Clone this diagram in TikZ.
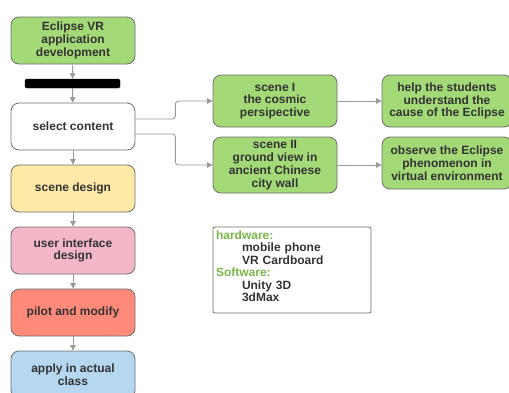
\documentclass[tikz,border=0pt]{standalone}
\usepackage{fontspec}
\setmainfont{Liberation Sans}
\usetikzlibrary{arrows.meta, positioning}
\definecolor{boxgreen}{HTML}{A3D977}
\definecolor{boxyellow}{HTML}{FFE9A6}
\definecolor{boxpink}{HTML}{F4B7C8}
\definecolor{boxred}{HTML}{FF8A7A}
\definecolor{boxblue}{HTML}{B5D7F0}
\definecolor{edgegray}{HTML}{6E6E6E}
\definecolor{linkgray}{HTML}{9A9A9A}
\definecolor{txtgray}{HTML}{333333}
\definecolor{hwgreen}{HTML}{7AB648}
\tikzset{
  stepbox/.style={draw=edgegray, line width=0.8pt, rounded corners=8pt, align=center,
    minimum width=124pt, minimum height=47pt, inner sep=1pt, text=txtgray,
    font=\fontsize{12}{12.8}\selectfont\bfseries},
  link/.style={draw=linkgray, line width=0.9pt, rounded corners=3pt,
    -{Triangle[length=5.5pt,width=5.5pt]}}
}
\begin{document}
\begin{tikzpicture}[x=1pt,y=-1pt]
    \useasboundingbox (0,0) rectangle (509,392);
    % left column
    \node[stepbox, fill=boxgreen] (eclipse) at (73,40.5) {Eclipse VR\\application\\development};
    \node[draw=black, fill=black, rounded corners=1.5pt, minimum width=95pt, minimum height=9pt, inner sep=0pt] (bar) at (72.5,83.5) {};
    \node[stepbox, fill=white] (sel) at (73,126.5) {select content};
    \node[stepbox, fill=boxyellow] (scd) at (73,188.5) {scene design};
    \node[stepbox, fill=boxpink] (uid) at (73,250.5) {user interface\\design};
    \node[stepbox, fill=boxred] (pilot) at (73,312.5) {pilot and modify};
    \node[stepbox, fill=boxblue] (apply) at (73,374.5) {apply in actual\\class};
    % scenes
    \node[stepbox, fill=boxgreen, minimum height=52pt] (sc1) at (275,101) {scene I\\the cosmic\\persipective};
    \node[stepbox, fill=boxgreen, minimum height=56pt] (sc2) at (275,165) {scene II\\ground view in\\ancient Chinese\\city wall};
    \node[stepbox, fill=boxgreen, minimum width=130pt, minimum height=52pt] (help) at (447,101) {help the students\\understand the\\cause of the Eclipse};
    \node[stepbox, fill=boxgreen, minimum width=130pt, minimum height=52pt] (obs) at (447,163) {observe the Eclipse\\phenomenon in\\virtual environment};
    % tools
    \node[draw=edgegray, line width=0.8pt, rounded corners=2pt, minimum width=158pt, minimum height=86pt,
      text width=152pt, align=left, inner sep=3pt, text=txtgray,
      font=\fontsize{12}{12.5}\selectfont\bfseries] (tools) at (292,270)
      {\textcolor{hwgreen}{hardware:}\\\hspace*{26pt}mobile phone\\\hspace*{26pt}VR Cardboard\\
       \textcolor{hwgreen}{Software:}\\\hspace*{26pt}Unity 3D\\\hspace*{26pt}3dMax\par\vspace*{8pt}};
    % links
    \draw[link] (eclipse) -- (bar);
    \draw[link] (bar) -- (sel);
    \draw[link] (sel) -- (scd);
    \draw[link] (scd) -- (uid);
    \draw[link] (uid) -- (pilot);
    \draw[link] (pilot) -- (apply);
    \draw[link] ([yshift=7.5pt]sel.east) -- ++(40,0) |- (sc1.west);
    \draw[link] ([yshift=-7.5pt]sel.east) -- ++(40,0) |- (sc2.west);
    \draw[link] (sc1) -- (help);
    \draw[link] (sc2.east) -- (sc2.east -| obs.west);
\end{tikzpicture}
\end{document}
